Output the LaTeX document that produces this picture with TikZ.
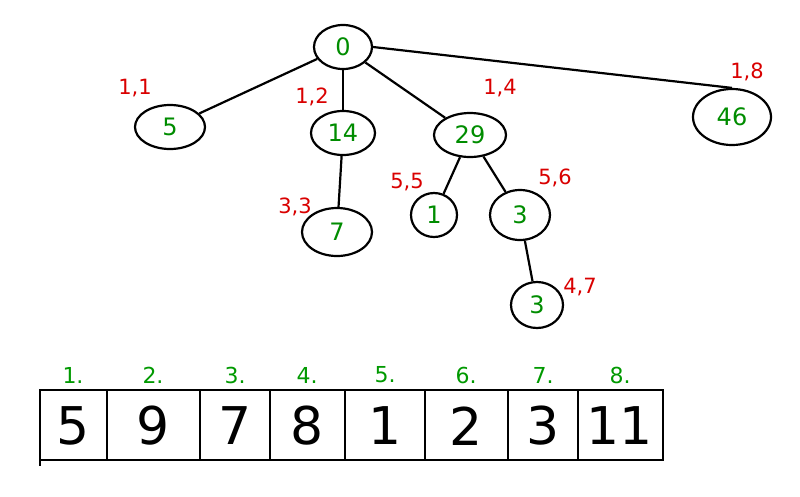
\documentclass[tikz,border=0pt]{standalone}
\usepackage{fontspec}
\setmainfont{DejaVu Sans}
\usetikzlibrary{shapes.geometric}
\begin{document}
\begin{tikzpicture}[x=1pt,y=-1pt,
  nd/.style={ellipse,draw,line width=2.2pt,minimum width=58pt,minimum height=44pt,inner sep=0pt,text=green!55!black,font=\fontsize{24}{24}\selectfont},
  rl/.style={text=red!85!black,font=\fontsize{21}{21}\selectfont},
  gl/.style={text=green!60!black,font=\fontsize{22}{22}\selectfont},
  cell/.style={font=\fontsize{52}{52}\selectfont},
  ln/.style={line width=2.2pt}]
\useasboundingbox (0,0) rectangle (800,496);
\node[nd] (r) at (343,47) {0};
\node[nd,minimum width=70pt] (a) at (170,127) {5};
\node[nd,minimum width=64pt] (b) at (343,133) {14};
\node[nd,minimum width=72pt] (c) at (470,135) {29};
\node[nd,minimum width=78pt,minimum height=56pt] (d) at (732,117) {46};
\node[nd,minimum width=70pt,minimum height=48pt] (e) at (337,232) {7};
\node[nd,minimum width=46pt] (f) at (434,215) {1};
\node[nd,minimum width=60pt,minimum height=50pt] (g) at (520,215) {3};
\node[nd,minimum width=52pt,minimum height=46pt] (h) at (537,305) {3};
\draw[ln] (r) -- (a); \draw[ln] (r) -- (b); \draw[ln] (r) -- (c);
\draw[ln] (r.east) -- (d.north);
\draw[ln] (b) -- (e); \draw[ln] (c) -- (f); \draw[ln] (c) -- (g); \draw[ln] (g) -- (h);
\node[rl] (l1) at (135,88) {1,1};
\node[rl] (l2) at (312,97) {1,2};
\node[rl] (l3) at (500,88) {1,4};
\node[rl] (l4) at (747,72) {1,8};
\node[rl] (l5) at (295,207) {3,3};
\node[rl] (l6) at (407,182) {5,5};
\node[rl] (l7) at (555,178) {5,6};
\node[rl] (l8) at (580,287) {4,7};
\draw[ln] (40,390) rectangle (663,460);
\draw[ln] (40,460) -- (40,466);
\foreach \x in {107,200,270,345,425,508,578} \draw[ln] (\x,390) -- (\x,460);
\foreach \t/\x [count=\i] in {5/73,9/153,7/235,8/307,1/385,2/466,3/543,11/620}{
  \node[cell] (c\i) at (\x,426) {\t};
  \node[gl] (n\i) at (\x,375) {\i.};
}
\end{tikzpicture}
\end{document}
